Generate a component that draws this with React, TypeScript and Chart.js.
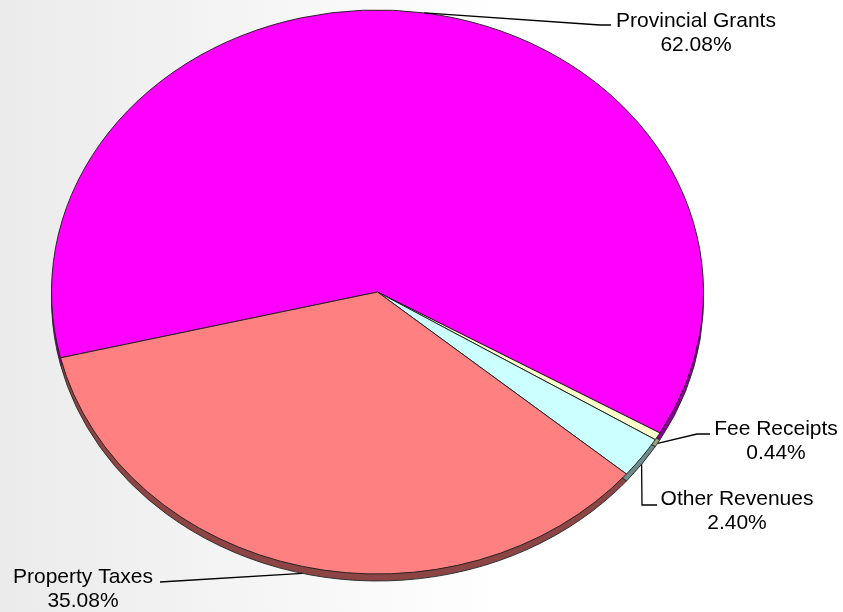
import React, { useEffect, useRef } from "react";
import { Chart, registerables } from "chart.js";

Chart.register(...registerables);

// ---- data ----
const categories: string[] = ["Provincial Grants", "Fee Receipts", "Other Revenues", "Property Taxes"];
const values: number[] = [62.08, 0.44, 2.4, 35.08];
const colors: string[] = ["#FF00FF", "#FFFFCC", "#CCFFFF", "#FF8080"];
const sideColors: string[] = ["#8a0096", "#a0a078", "#6e8c8c", "#8c4444"];

// ---- layout constants ----
const SCALE_Y = 0.865;
const DEPTH = 7;
const FONT = '21px "Liberation Sans", Arial, sans-serif';
const LINE_GAP = 24;
const LABEL_LAYOUT = [
  { elbow: [600, 25], end: [611, 25], textX: 696, textY: 27 },
  { elbow: [697, 434], end: [710, 434], textX: 776, textY: 435 },
  { elbow: [642, 505], end: [657, 505], textX: 737, textY: 505 },
  { elbow: [160, 582], end: [160, 582], textX: 83, textY: 583 },
];

const pie3d = {
  id: "pie3d",
  beforeDatasetsDraw(chart: any) {
    const ctx: CanvasRenderingContext2D = chart.ctx;
    const arcs = chart.getDatasetMeta(0).data;
    ctx.save();
    if (!arcs.length) return;
    const { x, y } = arcs[0].getProps(["x", "y"], true);
    ctx.translate(x, y);
    ctx.scale(1, SCALE_Y);
    ctx.translate(-x, -y);
    const d = DEPTH / SCALE_Y;
    arcs.forEach((arc: any, i: number) => {
      const p = arc.getProps(["x", "y", "startAngle", "endAngle", "outerRadius"], true);
      ctx.beginPath();
      ctx.moveTo(p.x, p.y + d);
      ctx.arc(p.x, p.y + d, p.outerRadius, p.startAngle, p.endAngle);
      ctx.closePath();
      ctx.fillStyle = sideColors[i];
      ctx.fill();
      ctx.lineWidth = 1;
      ctx.strokeStyle = "#2a2a2a";
      ctx.stroke();
    });
  },
  afterDatasetsDraw(chart: any) {
    const ctx: CanvasRenderingContext2D = chart.ctx;
    ctx.restore();
    const arcs = chart.getDatasetMeta(0).data;
    ctx.save();
    ctx.font = FONT;
    ctx.fillStyle = "#000";
    ctx.strokeStyle = "#000";
    ctx.lineWidth = 1.3;
    ctx.textAlign = "center";
    ctx.textBaseline = "alphabetic";
    arcs.forEach((arc: any, i: number) => {
      const p = arc.getProps(["x", "y", "startAngle", "endAngle", "outerRadius"], true);
      const a = (p.startAngle + p.endAngle) / 2;
      const ax = p.x + p.outerRadius * Math.cos(a);
      let ay = p.y + p.outerRadius * Math.sin(a) * SCALE_Y;
      if (Math.sin(a) > 0) ay += DEPTH;
      const L = LABEL_LAYOUT[i];
      ctx.beginPath();
      ctx.moveTo(ax, ay);
      ctx.lineTo(L.elbow[0], L.elbow[1]);
      ctx.lineTo(L.end[0], L.end[1]);
      ctx.stroke();
      ctx.fillText(categories[i], L.textX, L.textY);
      ctx.fillText(values[i].toFixed(2) + "%", L.textX, L.textY + LINE_GAP);
    });
    ctx.restore();
  },
};

export default function App() {
  const ref = useRef<HTMLCanvasElement | null>(null);
  useEffect(() => {
    if (!ref.current) return;
    const chart = new Chart(ref.current, {
      type: "pie",
      data: {
        labels: categories,
        datasets: [
          {
            data: values,
            backgroundColor: colors,
            borderColor: "#1e1e1e",
            borderWidth: 1,
          },
        ],
      },
      options: {
        animation: false,
        responsive: true,
        maintainAspectRatio: false,
        rotation: 256.5,
        radius: 326,
        events: [],
        layout: { padding: { left: 0, right: 88, top: 0, bottom: 28 } },
        plugins: { legend: { display: false }, tooltip: { enabled: false } },
      } as any,
      plugins: [pie3d],
    });
    return () => chart.destroy();
  }, []);
  return (
    <div
      style={{
        position: "fixed",
        left: 0,
        top: 0,
        width: 843,
        height: 612,
        background: "linear-gradient(to right, #ebebeb 0%, #f3f3f3 25%, #fafafa 45%, #ffffff 60%)",
      }}
    >
      <canvas ref={ref} />
    </div>
  );
}
